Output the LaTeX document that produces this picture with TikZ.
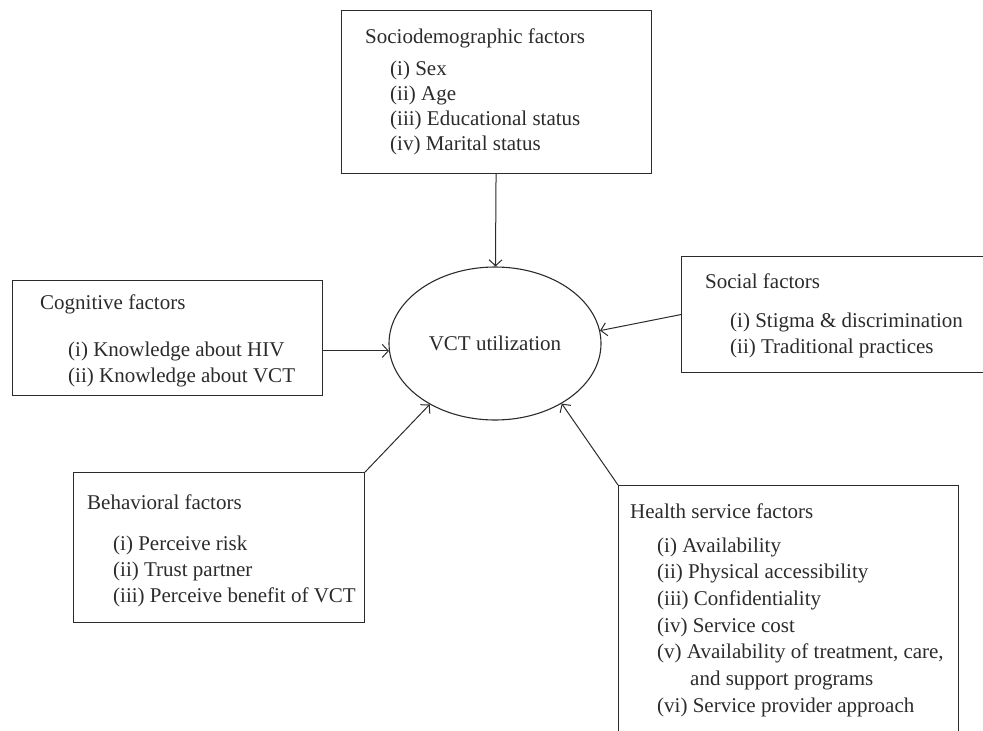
\documentclass[tikz,border=0pt]{standalone}
\usepackage{fontspec}
\setmainfont{Liberation Serif}
\usetikzlibrary{arrows.meta,positioning,shapes.geometric}
\definecolor{ink}{HTML}{2B2B2B}
\newcommand{\itemlist}[1]{\begin{tabular}[t]{@{}l@{}}#1\end{tabular}}
\tikzset{
  fbox/.style={draw=ink,line width=1.1pt,anchor=north west,inner sep=0pt},
  ttl/.style={anchor=base west,inner sep=0pt,text=ink},
  lst/.style={ttl},
  arr/.style={-{Straight Barb[length=6pt,width=13pt]},line width=1pt,draw=ink},
}

\begin{document}
\begin{tikzpicture}[x=1pt,y=-1pt,font=\fontsize{21}{26}\selectfont]
\useasboundingbox (0,0) rectangle (983,731);
% outcome
\node[ellipse,draw=ink,line width=1.1pt,minimum width=212pt,minimum height=153pt,inner sep=0pt,text=ink] (vct) at (495,343.5) {VCT utilization};
% factor boxes
\node[fbox,minimum width=310pt,minimum height=163pt] (socio) at (341,10) {};
\node[fbox,minimum width=310pt,minimum height=115pt] (cog) at (12,280) {};
\node[fbox,minimum width=305pt,minimum height=116pt] (soc) at (681,256) {};
\node[fbox,minimum width=291pt,minimum height=150pt] (beh) at (73,472) {};
\node[fbox,minimum width=340pt,minimum height=260pt] (health) at (618,485) {};
% box texts
\node[ttl] (sociot) at ([xshift=24pt,yshift=-33pt]socio.north west) {Sociodemographic factors};
\node[lst,font=\fontsize{21}{25}\selectfont] (socil) at ([xshift=49pt,yshift=-65pt]socio.north west) {\itemlist{(i) Sex\\(ii) Age\\(iii) Educational status\\(iv) Marital status}};
\node[ttl] (cogt) at ([xshift=28pt,yshift=-29pt]cog.north west) {Cognitive factors};
\node[lst] (cogl) at ([xshift=56pt,yshift=-76pt]cog.north west) {\itemlist{(i) Knowledge about HIV\\(ii) Knowledge about VCT}};
\node[ttl] (soct) at ([xshift=24pt,yshift=-32pt]soc.north west) {Social factors};
\node[lst] (socl) at ([xshift=49pt,yshift=-71pt]soc.north west) {\itemlist{(i) Stigma \& discrimination\\(ii) Traditional practices}};
\node[ttl] (beht) at ([xshift=14pt,yshift=-37pt]beh.north west) {Behavioral factors};
\node[lst] (behl) at ([xshift=40pt,yshift=-78pt]beh.north west) {\itemlist{(i) Perceive risk\\(ii) Trust partner\\(iii) Perceive benefit of VCT}};
\node[ttl] (healtht) at ([xshift=12pt,yshift=-33pt]health.north west) {Health service factors};
\node[lst,font=\fontsize{21}{26.7}\selectfont] (healthl) at ([xshift=39pt,yshift=-67pt]health.north west) {\itemlist{(i) Availability\\(ii) Physical accessibility\\(iii) Confidentiality\\(iv) Service cost\\(v) Availability of treatment, care,\\\hspace*{33pt}and support programs\\(vi) Service provider approach}};
% influences
\draw[arr] (socio) -- (vct);
\draw[arr] (cog.east |- vct.184) -- (vct.184);
\draw[arr] (soc.west) -- (vct.7);
\draw[arr] (beh.north east) -- (vct.223);
\draw[arr] (health.north west) -- (vct.318);
\end{tikzpicture}
\end{document}
